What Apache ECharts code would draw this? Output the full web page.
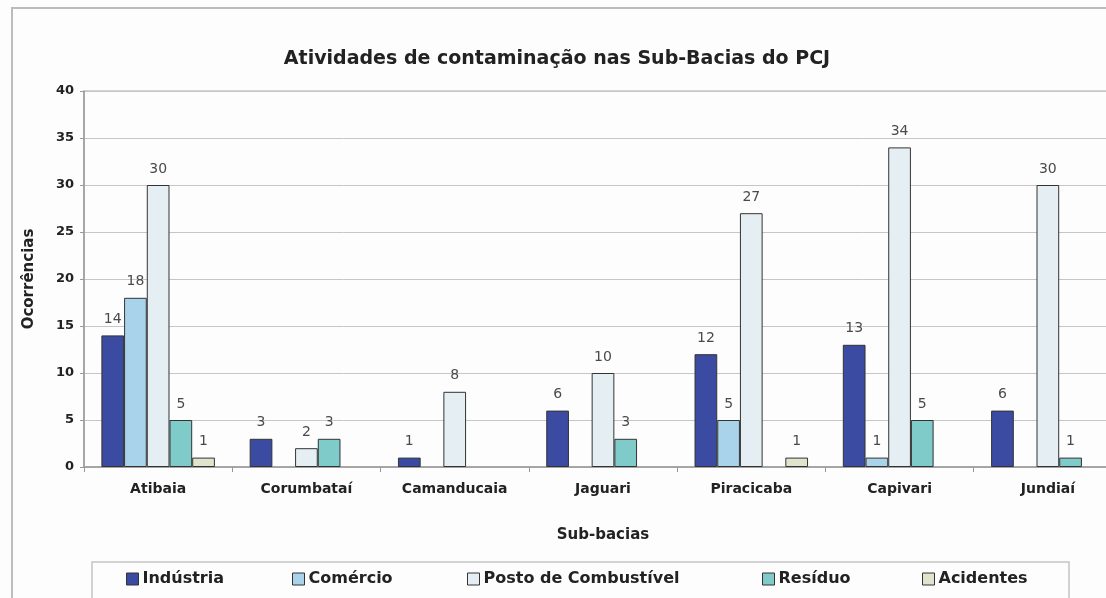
<!DOCTYPE html>
<html>
<head>
<meta charset="utf-8">
<script src="https://cdn.jsdelivr.net/npm/echarts@6/dist/echarts.min.js"></script>
<style>
  html, body { margin: 0; padding: 0; background: #fdfdfd; overflow: hidden; }
  /* o gráfico original está cortado à direita, por isso a área é mais larga que a janela */
  #chart { width: 1140px; height: 598px; }
</style>
</head>
<body>
<div id="chart"></div>
<script>
// dados
const subBacias = ['Atibaia', 'Corumbataí', 'Camanducaia', 'Jaguari', 'Piracicaba', 'Capivari', 'Jundiaí']
const industria = [14, 3, 1, 6, 12, 13, 6]
const comercio = [18, null, null, null, 5, 1, null]
const postoCombustivel = [30, 2, 8, 10, 27, 34, 30]
const residuo = [5, 3, null, 3, null, 5, 1]
const acidentes = [1, null, null, null, 1, null, null]

const nomes = ['Indústria', 'Comércio', 'Posto de Combustível', 'Resíduo', 'Acidentes']
const valores = [industria, comercio, postoCombustivel, residuo, acidentes]
const cores = ['#3b4ba2', '#a9d3eb', '#e5eff3', '#7ecbc9', '#dfe4cc']

// posição das legendas (px)
const legendaLeft = [126, 292, 467, 762, 922]

const fonte = 'DejaVu Sans'

const chart = echarts.init(document.getElementById('chart'))

const series = nomes.map((nome, i) => ({
  name: nome,
  type: 'bar',
  data: valores[i],
  barWidth: 22.7,
  barGap: '0%',
  itemStyle: {
    color: cores[i],
    borderColor: '#333',
    borderWidth: 1
  },
  label: {
    show: true,
    position: 'top',
    distance: 9,
    color: '#4a4a4a',
    fontFamily: fonte,
    fontSize: 14
  }
}))

chart.setOption({
  backgroundColor: '#fdfdfd',
  animation: false,
  title: {
    text: 'Atividades de contaminação nas Sub-Bacias do PCJ',
    left: 552,
    textAlign: 'center',
    top: 45,
    textStyle: {
      fontFamily: fonte,
      fontSize: 19,
      fontWeight: 'bold',
      color: '#222'
    }
  },
  graphic: [
    {
      type: 'rect',
      shape: { x: 12, y: 8, width: 1200, height: 700 },
      style: { fill: null, stroke: '#bcbcbc', lineWidth: 2 },
      silent: true
    },
    {
      type: 'rect',
      shape: { x: 92, y: 562, width: 977, height: 60 },
      style: { fill: '#fdfdfd', stroke: '#c4c4c4', lineWidth: 1.5 },
      z: -1,
      silent: true
    }
  ],
  legend: nomes.map((nome, i) => ({
    data: [nome],
    left: legendaLeft[i],
    top: 571,
    itemWidth: 12,
    itemHeight: 12,
    itemGap: 0,
    padding: 0,
    icon: 'rect',
    itemStyle: { borderColor: '#333', borderWidth: 1 },
    textStyle: {
      fontFamily: fonte,
      fontSize: 16,
      fontWeight: 'bold',
      color: '#222',
      padding: [0, 0, 0, -1]
    }
  })),
  grid: {
    left: 84,
    right: 18,
    top: 91,
    bottom: 131,
    show: true,
    borderColor: '#a8a8a8',
    borderWidth: 1,
    containLabel: false
  },
  xAxis: {
    type: 'category',
    data: subBacias,
    name: 'Sub-bacias',
    nameLocation: 'middle',
    nameGap: 61,
    nameTextStyle: {
      fontFamily: fonte,
      fontSize: 15,
      fontWeight: 'bold',
      color: '#222'
    },
    axisLine: { lineStyle: { color: '#999', width: 1.5 } },
    axisTick: { show: true, length: 5, lineStyle: { color: '#999' } },
    axisLabel: {
      margin: 15,
      fontFamily: fonte,
      fontSize: 14,
      fontWeight: 'bold',
      color: '#222'
    }
  },
  yAxis: {
    type: 'value',
    min: 0,
    max: 40,
    interval: 5,
    name: 'Ocorrências',
    nameLocation: 'middle',
    nameGap: 47,
    nameTextStyle: {
      fontFamily: fonte,
      fontSize: 15,
      fontWeight: 'bold',
      color: '#222'
    },
    axisLine: { show: true, lineStyle: { color: '#999', width: 1.5 } },
    axisTick: { show: true, length: 4, lineStyle: { color: '#999' } },
    axisLabel: {
      margin: 10,
      fontFamily: fonte,
      fontSize: 13,
      fontWeight: 'bold',
      color: '#222'
    },
    splitLine: { lineStyle: { color: '#c6c6c6', width: 1 } }
  },
  series: series
})
</script>
</body>
</html>
